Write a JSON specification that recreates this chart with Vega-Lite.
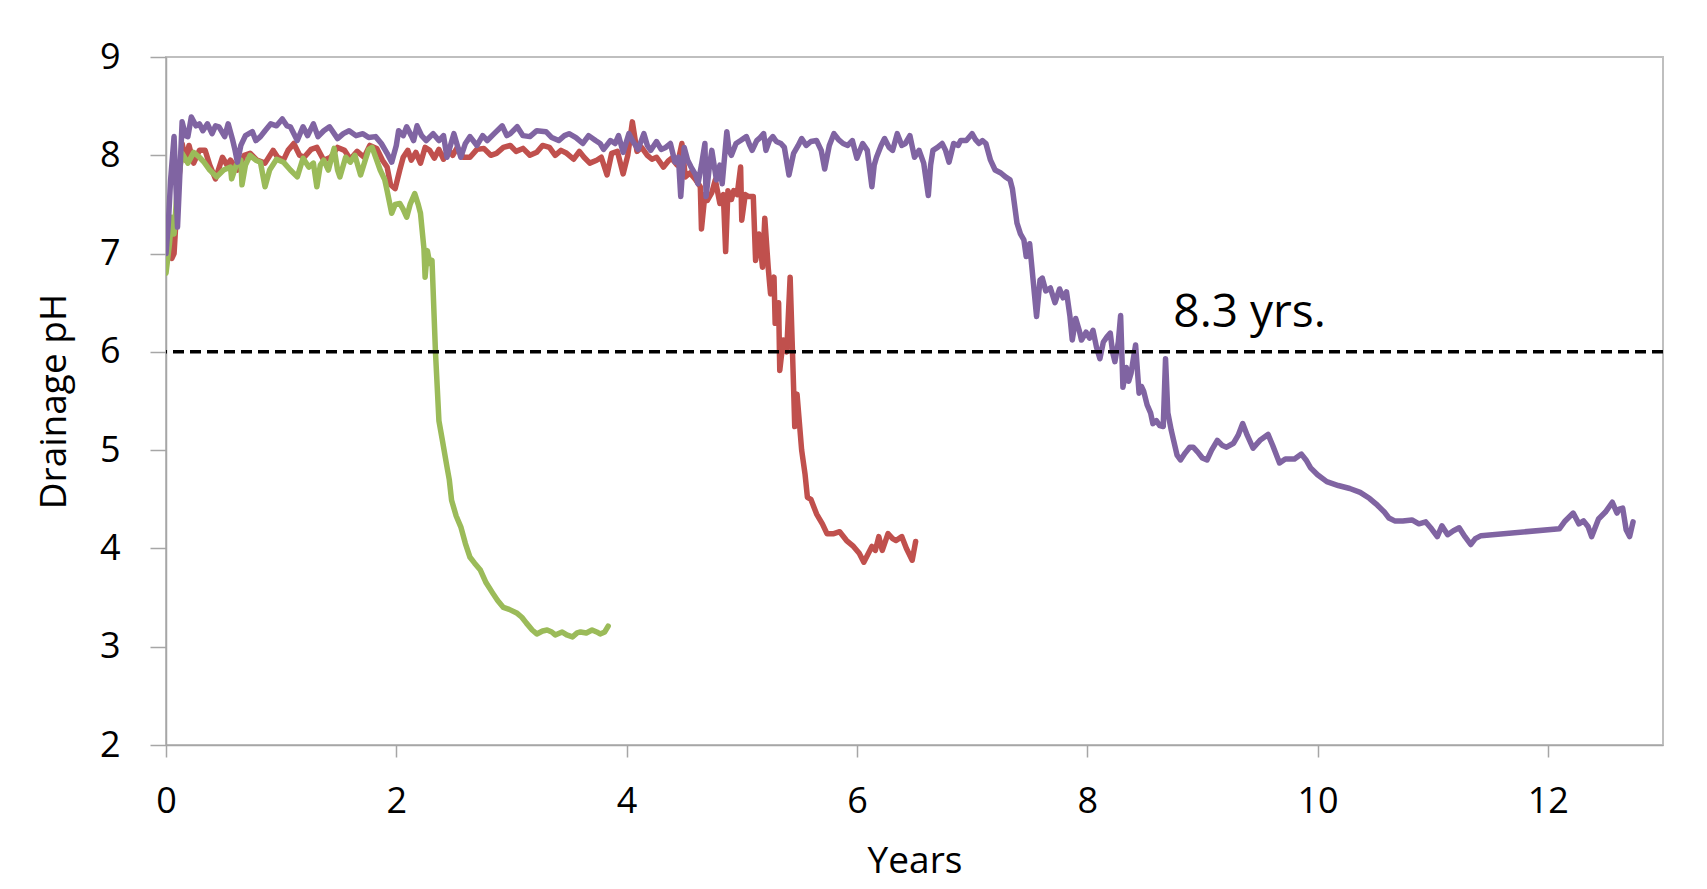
{
  "$schema": "https://vega.github.io/schema/vega-lite/v6.json",
  "autosize": "none",
  "width": 1497,
  "height": 688,
  "padding": {"left": 166, "top": 57, "right": 44, "bottom": 144},
  "background": "white",
  "config": {
    "view": {"stroke": "#bfbfbf", "strokeWidth": 2},
    "axis": {
      "grid": false,
      "labelFont": "Open Sans",
      "labelFontSize": 36,
      "labelColor": "#000000",
      "labelFlush": false,
      "titleFont": "Open Sans",
      "titleFontSize": 37,
      "titleFontWeight": "normal",
      "titleColor": "#000000",
      "domainColor": "#a6a6a6",
      "domainWidth": 1.5,
      "tickColor": "#a6a6a6",
      "tickWidth": 1.5
    }
  },
  "datasets": {
    "series": [
      {"s":"Column 1","x":0,"y":7.0},{"s":"Column 1","x":0.02,"y":7.3},{"s":"Column 1","x":0.05,"y":6.95},{"s":"Column 1","x":0.07,"y":7.0},{"s":"Column 1","x":0.1,"y":7.6},{"s":"Column 1","x":0.14,"y":8.12},{"s":"Column 1","x":0.17,"y":7.95},{"s":"Column 1","x":0.2,"y":8.1},{"s":"Column 1","x":0.24,"y":7.92},{"s":"Column 1","x":0.29,"y":8.05},{"s":"Column 1","x":0.34,"y":8.05},{"s":"Column 1","x":0.38,"y":7.9},{"s":"Column 1","x":0.43,"y":7.76},{"s":"Column 1","x":0.49,"y":7.98},{"s":"Column 1","x":0.53,"y":7.9},{"s":"Column 1","x":0.56,"y":7.95},{"s":"Column 1","x":0.62,"y":7.85},{"s":"Column 1","x":0.68,"y":8.0},{"s":"Column 1","x":0.73,"y":8.02},{"s":"Column 1","x":0.79,"y":7.95},{"s":"Column 1","x":0.86,"y":7.92},{"s":"Column 1","x":0.93,"y":8.05},{"s":"Column 1","x":0.97,"y":7.98},{"s":"Column 1","x":1.02,"y":7.95},{"s":"Column 1","x":1.06,"y":8.05},{"s":"Column 1","x":1.11,"y":8.12},{"s":"Column 1","x":1.16,"y":8.0},{"s":"Column 1","x":1.2,"y":7.98},{"s":"Column 1","x":1.26,"y":8.06},{"s":"Column 1","x":1.31,"y":8.08},{"s":"Column 1","x":1.37,"y":7.95},{"s":"Column 1","x":1.43,"y":7.98},{"s":"Column 1","x":1.49,"y":8.08},{"s":"Column 1","x":1.55,"y":8.05},{"s":"Column 1","x":1.6,"y":7.96},{"s":"Column 1","x":1.66,"y":8.04},{"s":"Column 1","x":1.72,"y":7.98},{"s":"Column 1","x":1.77,"y":8.1},{"s":"Column 1","x":1.83,"y":8.07},{"s":"Column 1","x":1.88,"y":7.95},{"s":"Column 1","x":1.92,"y":7.88},{"s":"Column 1","x":1.95,"y":7.7},{"s":"Column 1","x":1.99,"y":7.66},{"s":"Column 1","x":2.03,"y":7.85},{"s":"Column 1","x":2.06,"y":7.98},{"s":"Column 1","x":2.1,"y":8.05},{"s":"Column 1","x":2.13,"y":7.95},{"s":"Column 1","x":2.17,"y":8.03},{"s":"Column 1","x":2.21,"y":7.92},{"s":"Column 1","x":2.25,"y":8.08},{"s":"Column 1","x":2.29,"y":8.05},{"s":"Column 1","x":2.33,"y":7.97},{"s":"Column 1","x":2.37,"y":8.06},{"s":"Column 1","x":2.41,"y":7.96},{"s":"Column 1","x":2.45,"y":8.06},{"s":"Column 1","x":2.49,"y":8.0},{"s":"Column 1","x":2.53,"y":8.08},{"s":"Column 1","x":2.58,"y":7.98},{"s":"Column 1","x":2.64,"y":7.98},{"s":"Column 1","x":2.7,"y":8.06},{"s":"Column 1","x":2.76,"y":8.07},{"s":"Column 1","x":2.82,"y":8.0},{"s":"Column 1","x":2.87,"y":8.02},{"s":"Column 1","x":2.93,"y":8.08},{"s":"Column 1","x":2.99,"y":8.1},{"s":"Column 1","x":3.04,"y":8.04},{"s":"Column 1","x":3.1,"y":8.07},{"s":"Column 1","x":3.16,"y":8.0},{"s":"Column 1","x":3.22,"y":8.03},{"s":"Column 1","x":3.27,"y":8.1},{"s":"Column 1","x":3.33,"y":8.08},{"s":"Column 1","x":3.38,"y":8.0},{"s":"Column 1","x":3.43,"y":8.05},{"s":"Column 1","x":3.48,"y":8.02},{"s":"Column 1","x":3.54,"y":7.96},{"s":"Column 1","x":3.59,"y":8.04},{"s":"Column 1","x":3.63,"y":7.98},{"s":"Column 1","x":3.68,"y":7.92},{"s":"Column 1","x":3.74,"y":7.95},{"s":"Column 1","x":3.78,"y":7.98},{"s":"Column 1","x":3.83,"y":7.8},{"s":"Column 1","x":3.87,"y":8.02},{"s":"Column 1","x":3.92,"y":8.04},{"s":"Column 1","x":3.97,"y":7.81},{"s":"Column 1","x":4.01,"y":8.0},{"s":"Column 1","x":4.05,"y":8.34},{"s":"Column 1","x":4.09,"y":8.04},{"s":"Column 1","x":4.13,"y":8.08},{"s":"Column 1","x":4.18,"y":8.0},{"s":"Column 1","x":4.22,"y":7.96},{"s":"Column 1","x":4.26,"y":7.98},{"s":"Column 1","x":4.32,"y":7.88},{"s":"Column 1","x":4.36,"y":7.94},{"s":"Column 1","x":4.39,"y":7.97},{"s":"Column 1","x":4.44,"y":7.9},{"s":"Column 1","x":4.48,"y":8.12},{"s":"Column 1","x":4.51,"y":7.78},{"s":"Column 1","x":4.55,"y":7.82},{"s":"Column 1","x":4.6,"y":7.75},{"s":"Column 1","x":4.64,"y":7.68},{"s":"Column 1","x":4.65,"y":7.25},{"s":"Column 1","x":4.68,"y":7.6},{"s":"Column 1","x":4.7,"y":7.54},{"s":"Column 1","x":4.74,"y":7.62},{"s":"Column 1","x":4.77,"y":7.75},{"s":"Column 1","x":4.81,"y":7.51},{"s":"Column 1","x":4.84,"y":7.6},{"s":"Column 1","x":4.86,"y":7.02},{"s":"Column 1","x":4.88,"y":7.64},{"s":"Column 1","x":4.91,"y":7.55},{"s":"Column 1","x":4.93,"y":7.64},{"s":"Column 1","x":4.96,"y":7.6},{"s":"Column 1","x":4.99,"y":7.88},{"s":"Column 1","x":5.0,"y":7.34},{"s":"Column 1","x":5.03,"y":7.6},{"s":"Column 1","x":5.06,"y":7.58},{"s":"Column 1","x":5.1,"y":7.58},{"s":"Column 1","x":5.12,"y":6.93},{"s":"Column 1","x":5.15,"y":7.2},{"s":"Column 1","x":5.18,"y":6.86},{"s":"Column 1","x":5.2,"y":7.36},{"s":"Column 1","x":5.23,"y":6.85},{"s":"Column 1","x":5.25,"y":6.59},{"s":"Column 1","x":5.28,"y":6.76},{"s":"Column 1","x":5.29,"y":6.29},{"s":"Column 1","x":5.32,"y":6.5},{"s":"Column 1","x":5.33,"y":5.81},{"s":"Column 1","x":5.36,"y":6.12},{"s":"Column 1","x":5.39,"y":6.0},{"s":"Column 1","x":5.42,"y":6.76},{"s":"Column 1","x":5.45,"y":5.64},{"s":"Column 1","x":5.46,"y":5.24},{"s":"Column 1","x":5.48,"y":5.57},{"s":"Column 1","x":5.52,"y":5.0},{"s":"Column 1","x":5.55,"y":4.75},{"s":"Column 1","x":5.57,"y":4.52},{"s":"Column 1","x":5.6,"y":4.5},{"s":"Column 1","x":5.65,"y":4.35},{"s":"Column 1","x":5.7,"y":4.25},{"s":"Column 1","x":5.74,"y":4.15},{"s":"Column 1","x":5.8,"y":4.15},{"s":"Column 1","x":5.85,"y":4.17},{"s":"Column 1","x":5.91,"y":4.08},{"s":"Column 1","x":5.97,"y":4.02},{"s":"Column 1","x":6.02,"y":3.95},{"s":"Column 1","x":6.06,"y":3.86},{"s":"Column 1","x":6.1,"y":3.95},{"s":"Column 1","x":6.13,"y":4.02},{"s":"Column 1","x":6.16,"y":3.98},{"s":"Column 1","x":6.19,"y":4.12},{"s":"Column 1","x":6.22,"y":3.98},{"s":"Column 1","x":6.27,"y":4.15},{"s":"Column 1","x":6.31,"y":4.1},{"s":"Column 1","x":6.34,"y":4.08},{"s":"Column 1","x":6.39,"y":4.12},{"s":"Column 1","x":6.43,"y":4.0},{"s":"Column 1","x":6.48,"y":3.88},{"s":"Column 1","x":6.51,"y":4.07},

      {"s":"Column 2","x":0,"y":6.8},{"s":"Column 2","x":0.03,"y":7.1},{"s":"Column 2","x":0.05,"y":7.37},{"s":"Column 2","x":0.07,"y":7.2},{"s":"Column 2","x":0.1,"y":7.7},{"s":"Column 2","x":0.14,"y":8.02},{"s":"Column 2","x":0.19,"y":7.92},{"s":"Column 2","x":0.24,"y":8.03},{"s":"Column 2","x":0.29,"y":7.98},{"s":"Column 2","x":0.33,"y":7.93},{"s":"Column 2","x":0.38,"y":7.85},{"s":"Column 2","x":0.44,"y":7.78},{"s":"Column 2","x":0.5,"y":7.85},{"s":"Column 2","x":0.56,"y":7.88},{"s":"Column 2","x":0.57,"y":7.76},{"s":"Column 2","x":0.61,"y":7.9},{"s":"Column 2","x":0.65,"y":7.95},{"s":"Column 2","x":0.66,"y":7.7},{"s":"Column 2","x":0.69,"y":7.9},{"s":"Column 2","x":0.73,"y":8.0},{"s":"Column 2","x":0.78,"y":7.95},{"s":"Column 2","x":0.82,"y":7.93},{"s":"Column 2","x":0.86,"y":7.68},{"s":"Column 2","x":0.9,"y":7.85},{"s":"Column 2","x":0.96,"y":7.96},{"s":"Column 2","x":1.02,"y":7.93},{"s":"Column 2","x":1.08,"y":7.85},{"s":"Column 2","x":1.14,"y":7.78},{"s":"Column 2","x":1.19,"y":7.97},{"s":"Column 2","x":1.24,"y":7.88},{"s":"Column 2","x":1.28,"y":7.92},{"s":"Column 2","x":1.31,"y":7.68},{"s":"Column 2","x":1.34,"y":7.9},{"s":"Column 2","x":1.37,"y":7.95},{"s":"Column 2","x":1.41,"y":7.85},{"s":"Column 2","x":1.46,"y":8.07},{"s":"Column 2","x":1.49,"y":7.85},{"s":"Column 2","x":1.51,"y":7.78},{"s":"Column 2","x":1.56,"y":7.98},{"s":"Column 2","x":1.6,"y":7.93},{"s":"Column 2","x":1.64,"y":8.0},{"s":"Column 2","x":1.69,"y":7.8},{"s":"Column 2","x":1.73,"y":7.95},{"s":"Column 2","x":1.76,"y":8.06},{"s":"Column 2","x":1.79,"y":8.08},{"s":"Column 2","x":1.83,"y":7.95},{"s":"Column 2","x":1.86,"y":7.85},{"s":"Column 2","x":1.9,"y":7.75},{"s":"Column 2","x":1.92,"y":7.64},{"s":"Column 2","x":1.96,"y":7.41},{"s":"Column 2","x":1.99,"y":7.5},{"s":"Column 2","x":2.03,"y":7.51},{"s":"Column 2","x":2.06,"y":7.45},{"s":"Column 2","x":2.09,"y":7.37},{"s":"Column 2","x":2.12,"y":7.5},{"s":"Column 2","x":2.16,"y":7.61},{"s":"Column 2","x":2.19,"y":7.5},{"s":"Column 2","x":2.21,"y":7.41},{"s":"Column 2","x":2.24,"y":7.05},{"s":"Column 2","x":2.25,"y":6.76},{"s":"Column 2","x":2.27,"y":7.03},{"s":"Column 2","x":2.29,"y":6.9},{"s":"Column 2","x":2.31,"y":6.93},{"s":"Column 2","x":2.34,"y":6.0},{"s":"Column 2","x":2.37,"y":5.3},{"s":"Column 2","x":2.4,"y":5.1},{"s":"Column 2","x":2.44,"y":4.83},{"s":"Column 2","x":2.46,"y":4.7},{"s":"Column 2","x":2.48,"y":4.49},{"s":"Column 2","x":2.52,"y":4.33},{"s":"Column 2","x":2.56,"y":4.22},{"s":"Column 2","x":2.6,"y":4.05},{"s":"Column 2","x":2.64,"y":3.91},{"s":"Column 2","x":2.68,"y":3.85},{"s":"Column 2","x":2.73,"y":3.78},{"s":"Column 2","x":2.78,"y":3.65},{"s":"Column 2","x":2.84,"y":3.54},{"s":"Column 2","x":2.88,"y":3.47},{"s":"Column 2","x":2.93,"y":3.4},{"s":"Column 2","x":2.98,"y":3.38},{"s":"Column 2","x":3.05,"y":3.34},{"s":"Column 2","x":3.09,"y":3.3},{"s":"Column 2","x":3.13,"y":3.24},{"s":"Column 2","x":3.18,"y":3.17},{"s":"Column 2","x":3.22,"y":3.13},{"s":"Column 2","x":3.27,"y":3.16},{"s":"Column 2","x":3.31,"y":3.17},{"s":"Column 2","x":3.35,"y":3.15},{"s":"Column 2","x":3.38,"y":3.12},{"s":"Column 2","x":3.44,"y":3.15},{"s":"Column 2","x":3.48,"y":3.12},{"s":"Column 2","x":3.53,"y":3.1},{"s":"Column 2","x":3.57,"y":3.14},{"s":"Column 2","x":3.6,"y":3.15},{"s":"Column 2","x":3.65,"y":3.14},{"s":"Column 2","x":3.7,"y":3.17},{"s":"Column 2","x":3.74,"y":3.15},{"s":"Column 2","x":3.77,"y":3.13},{"s":"Column 2","x":3.81,"y":3.15},{"s":"Column 2","x":3.84,"y":3.21},

      {"s":"Column 3","x":0,"y":7.0},{"s":"Column 3","x":0.02,"y":7.3},{"s":"Column 3","x":0.04,"y":7.75},{"s":"Column 3","x":0.07,"y":8.19},{"s":"Column 3","x":0.1,"y":7.27},{"s":"Column 3","x":0.12,"y":7.8},{"s":"Column 3","x":0.14,"y":8.34},{"s":"Column 3","x":0.17,"y":8.2},{"s":"Column 3","x":0.19,"y":8.19},{"s":"Column 3","x":0.22,"y":8.39},{"s":"Column 3","x":0.26,"y":8.3},{"s":"Column 3","x":0.29,"y":8.32},{"s":"Column 3","x":0.32,"y":8.25},{"s":"Column 3","x":0.36,"y":8.32},{"s":"Column 3","x":0.4,"y":8.22},{"s":"Column 3","x":0.43,"y":8.3},{"s":"Column 3","x":0.46,"y":8.29},{"s":"Column 3","x":0.51,"y":8.19},{"s":"Column 3","x":0.54,"y":8.32},{"s":"Column 3","x":0.58,"y":8.15},{"s":"Column 3","x":0.6,"y":8.05},{"s":"Column 3","x":0.62,"y":7.93},{"s":"Column 3","x":0.65,"y":8.1},{"s":"Column 3","x":0.69,"y":8.2},{"s":"Column 3","x":0.75,"y":8.24},{"s":"Column 3","x":0.78,"y":8.15},{"s":"Column 3","x":0.82,"y":8.19},{"s":"Column 3","x":0.86,"y":8.25},{"s":"Column 3","x":0.91,"y":8.32},{"s":"Column 3","x":0.96,"y":8.3},{"s":"Column 3","x":1.01,"y":8.37},{"s":"Column 3","x":1.05,"y":8.3},{"s":"Column 3","x":1.08,"y":8.29},{"s":"Column 3","x":1.14,"y":8.15},{"s":"Column 3","x":1.19,"y":8.29},{"s":"Column 3","x":1.23,"y":8.2},{"s":"Column 3","x":1.28,"y":8.32},{"s":"Column 3","x":1.32,"y":8.19},{"s":"Column 3","x":1.37,"y":8.25},{"s":"Column 3","x":1.42,"y":8.29},{"s":"Column 3","x":1.49,"y":8.17},{"s":"Column 3","x":1.54,"y":8.22},{"s":"Column 3","x":1.59,"y":8.25},{"s":"Column 3","x":1.65,"y":8.2},{"s":"Column 3","x":1.71,"y":8.22},{"s":"Column 3","x":1.76,"y":8.18},{"s":"Column 3","x":1.82,"y":8.19},{"s":"Column 3","x":1.87,"y":8.12},{"s":"Column 3","x":1.92,"y":8.02},{"s":"Column 3","x":1.96,"y":7.93},{"s":"Column 3","x":2.0,"y":8.1},{"s":"Column 3","x":2.02,"y":8.25},{"s":"Column 3","x":2.06,"y":8.2},{"s":"Column 3","x":2.09,"y":8.29},{"s":"Column 3","x":2.13,"y":8.2},{"s":"Column 3","x":2.15,"y":8.15},{"s":"Column 3","x":2.18,"y":8.3},{"s":"Column 3","x":2.22,"y":8.2},{"s":"Column 3","x":2.26,"y":8.15},{"s":"Column 3","x":2.32,"y":8.22},{"s":"Column 3","x":2.37,"y":8.15},{"s":"Column 3","x":2.41,"y":8.2},{"s":"Column 3","x":2.44,"y":7.98},{"s":"Column 3","x":2.5,"y":8.22},{"s":"Column 3","x":2.53,"y":8.1},{"s":"Column 3","x":2.56,"y":7.98},{"s":"Column 3","x":2.6,"y":8.12},{"s":"Column 3","x":2.64,"y":8.19},{"s":"Column 3","x":2.7,"y":8.1},{"s":"Column 3","x":2.75,"y":8.2},{"s":"Column 3","x":2.79,"y":8.15},{"s":"Column 3","x":2.85,"y":8.22},{"s":"Column 3","x":2.92,"y":8.3},{"s":"Column 3","x":2.96,"y":8.2},{"s":"Column 3","x":2.99,"y":8.22},{"s":"Column 3","x":3.05,"y":8.29},{"s":"Column 3","x":3.1,"y":8.2},{"s":"Column 3","x":3.16,"y":8.19},{"s":"Column 3","x":3.22,"y":8.25},{"s":"Column 3","x":3.3,"y":8.24},{"s":"Column 3","x":3.35,"y":8.18},{"s":"Column 3","x":3.41,"y":8.15},{"s":"Column 3","x":3.46,"y":8.2},{"s":"Column 3","x":3.5,"y":8.22},{"s":"Column 3","x":3.56,"y":8.18},{"s":"Column 3","x":3.62,"y":8.12},{"s":"Column 3","x":3.67,"y":8.2},{"s":"Column 3","x":3.73,"y":8.15},{"s":"Column 3","x":3.77,"y":8.12},{"s":"Column 3","x":3.8,"y":8.06},{"s":"Column 3","x":3.86,"y":8.15},{"s":"Column 3","x":3.9,"y":8.12},{"s":"Column 3","x":3.93,"y":8.2},{"s":"Column 3","x":3.97,"y":8.03},{"s":"Column 3","x":4.02,"y":8.22},{"s":"Column 3","x":4.05,"y":8.15},{"s":"Column 3","x":4.1,"y":8.06},{"s":"Column 3","x":4.15,"y":8.22},{"s":"Column 3","x":4.18,"y":8.1},{"s":"Column 3","x":4.21,"y":8.05},{"s":"Column 3","x":4.26,"y":8.14},{"s":"Column 3","x":4.3,"y":8.06},{"s":"Column 3","x":4.34,"y":8.08},{"s":"Column 3","x":4.38,"y":8.12},{"s":"Column 3","x":4.42,"y":7.93},{"s":"Column 3","x":4.45,"y":7.98},{"s":"Column 3","x":4.47,"y":7.58},{"s":"Column 3","x":4.5,"y":8.08},{"s":"Column 3","x":4.53,"y":7.95},{"s":"Column 3","x":4.56,"y":7.88},{"s":"Column 3","x":4.6,"y":7.8},{"s":"Column 3","x":4.62,"y":7.71},{"s":"Column 3","x":4.65,"y":7.9},{"s":"Column 3","x":4.68,"y":8.12},{"s":"Column 3","x":4.69,"y":7.58},{"s":"Column 3","x":4.72,"y":7.9},{"s":"Column 3","x":4.74,"y":8.05},{"s":"Column 3","x":4.78,"y":7.75},{"s":"Column 3","x":4.81,"y":7.9},{"s":"Column 3","x":4.83,"y":7.71},{"s":"Column 3","x":4.87,"y":8.24},{"s":"Column 3","x":4.89,"y":8.05},{"s":"Column 3","x":4.91,"y":8.0},{"s":"Column 3","x":4.95,"y":8.12},{"s":"Column 3","x":4.99,"y":8.15},{"s":"Column 3","x":5.04,"y":8.19},{"s":"Column 3","x":5.07,"y":8.1},{"s":"Column 3","x":5.09,"y":8.05},{"s":"Column 3","x":5.13,"y":8.15},{"s":"Column 3","x":5.16,"y":8.18},{"s":"Column 3","x":5.19,"y":8.22},{"s":"Column 3","x":5.21,"y":8.05},{"s":"Column 3","x":5.24,"y":8.15},{"s":"Column 3","x":5.27,"y":8.19},{"s":"Column 3","x":5.3,"y":8.14},{"s":"Column 3","x":5.34,"y":8.12},{"s":"Column 3","x":5.37,"y":8.08},{"s":"Column 3","x":5.41,"y":7.8},{"s":"Column 3","x":5.45,"y":8.02},{"s":"Column 3","x":5.49,"y":8.1},{"s":"Column 3","x":5.52,"y":8.17},{"s":"Column 3","x":5.56,"y":8.1},{"s":"Column 3","x":5.6,"y":8.14},{"s":"Column 3","x":5.65,"y":8.15},{"s":"Column 3","x":5.69,"y":8.05},{"s":"Column 3","x":5.72,"y":7.86},{"s":"Column 3","x":5.76,"y":8.1},{"s":"Column 3","x":5.8,"y":8.22},{"s":"Column 3","x":5.84,"y":8.16},{"s":"Column 3","x":5.88,"y":8.12},{"s":"Column 3","x":5.92,"y":8.1},{"s":"Column 3","x":5.96,"y":8.15},{"s":"Column 3","x":6.0,"y":7.97},{"s":"Column 3","x":6.05,"y":8.12},{"s":"Column 3","x":6.09,"y":8.05},{"s":"Column 3","x":6.13,"y":7.68},{"s":"Column 3","x":6.15,"y":7.9},{"s":"Column 3","x":6.17,"y":7.98},{"s":"Column 3","x":6.21,"y":8.1},{"s":"Column 3","x":6.24,"y":8.17},{"s":"Column 3","x":6.28,"y":8.08},{"s":"Column 3","x":6.31,"y":8.05},{"s":"Column 3","x":6.35,"y":8.22},{"s":"Column 3","x":6.39,"y":8.1},{"s":"Column 3","x":6.42,"y":8.12},{"s":"Column 3","x":6.46,"y":8.2},{"s":"Column 3","x":6.5,"y":7.98},{"s":"Column 3","x":6.54,"y":8.05},{"s":"Column 3","x":6.58,"y":7.92},{"s":"Column 3","x":6.62,"y":7.59},{"s":"Column 3","x":6.64,"y":7.9},{"s":"Column 3","x":6.66,"y":8.05},{"s":"Column 3","x":6.7,"y":8.08},{"s":"Column 3","x":6.74,"y":8.12},{"s":"Column 3","x":6.77,"y":8.05},{"s":"Column 3","x":6.8,"y":7.93},{"s":"Column 3","x":6.84,"y":8.12},{"s":"Column 3","x":6.88,"y":8.1},{"s":"Column 3","x":6.9,"y":8.15},{"s":"Column 3","x":6.95,"y":8.15},{"s":"Column 3","x":7.0,"y":8.22},{"s":"Column 3","x":7.03,"y":8.16},{"s":"Column 3","x":7.06,"y":8.12},{"s":"Column 3","x":7.09,"y":8.15},{"s":"Column 3","x":7.12,"y":8.12},{"s":"Column 3","x":7.16,"y":7.95},{"s":"Column 3","x":7.2,"y":7.85},{"s":"Column 3","x":7.25,"y":7.82},{"s":"Column 3","x":7.29,"y":7.78},{"s":"Column 3","x":7.33,"y":7.75},{"s":"Column 3","x":7.35,"y":7.66},{"s":"Column 3","x":7.39,"y":7.31},{"s":"Column 3","x":7.42,"y":7.2},{"s":"Column 3","x":7.45,"y":7.14},{"s":"Column 3","x":7.47,"y":6.97},{"s":"Column 3","x":7.5,"y":7.1},{"s":"Column 3","x":7.53,"y":6.73},{"s":"Column 3","x":7.56,"y":6.36},{"s":"Column 3","x":7.59,"y":6.73},{"s":"Column 3","x":7.61,"y":6.75},{"s":"Column 3","x":7.64,"y":6.62},{"s":"Column 3","x":7.68,"y":6.65},{"s":"Column 3","x":7.72,"y":6.5},{"s":"Column 3","x":7.76,"y":6.64},{"s":"Column 3","x":7.79,"y":6.55},{"s":"Column 3","x":7.82,"y":6.61},{"s":"Column 3","x":7.85,"y":6.36},{"s":"Column 3","x":7.87,"y":6.12},{"s":"Column 3","x":7.9,"y":6.34},{"s":"Column 3","x":7.93,"y":6.22},{"s":"Column 3","x":7.95,"y":6.12},{"s":"Column 3","x":7.99,"y":6.2},{"s":"Column 3","x":8.02,"y":6.14},{"s":"Column 3","x":8.05,"y":6.22},{"s":"Column 3","x":8.08,"y":6.05},{"s":"Column 3","x":8.11,"y":5.93},{"s":"Column 3","x":8.14,"y":6.1},{"s":"Column 3","x":8.17,"y":6.15},{"s":"Column 3","x":8.2,"y":6.19},{"s":"Column 3","x":8.22,"y":6.0},{"s":"Column 3","x":8.24,"y":5.9},{"s":"Column 3","x":8.27,"y":6.1},{"s":"Column 3","x":8.29,"y":6.37},{"s":"Column 3","x":8.31,"y":5.64},{"s":"Column 3","x":8.34,"y":5.84},{"s":"Column 3","x":8.36,"y":5.7},{"s":"Column 3","x":8.38,"y":5.78},{"s":"Column 3","x":8.42,"y":6.07},{"s":"Column 3","x":8.45,"y":5.58},{"s":"Column 3","x":8.47,"y":5.65},{"s":"Column 3","x":8.49,"y":5.6},{"s":"Column 3","x":8.52,"y":5.46},{"s":"Column 3","x":8.55,"y":5.38},{"s":"Column 3","x":8.57,"y":5.27},{"s":"Column 3","x":8.6,"y":5.3},{"s":"Column 3","x":8.63,"y":5.25},{"s":"Column 3","x":8.66,"y":5.24},{"s":"Column 3","x":8.68,"y":5.93},{"s":"Column 3","x":8.7,"y":5.38},{"s":"Column 3","x":8.73,"y":5.2},{"s":"Column 3","x":8.75,"y":5.1},{"s":"Column 3","x":8.78,"y":4.95},{"s":"Column 3","x":8.81,"y":4.9},{"s":"Column 3","x":8.85,"y":4.97},{"s":"Column 3","x":8.89,"y":5.03},{"s":"Column 3","x":8.92,"y":5.03},{"s":"Column 3","x":8.96,"y":4.98},{"s":"Column 3","x":9.0,"y":4.92},{"s":"Column 3","x":9.04,"y":4.9},{"s":"Column 3","x":9.08,"y":5.0},{"s":"Column 3","x":9.13,"y":5.1},{"s":"Column 3","x":9.17,"y":5.05},{"s":"Column 3","x":9.21,"y":5.03},{"s":"Column 3","x":9.27,"y":5.07},{"s":"Column 3","x":9.31,"y":5.15},{"s":"Column 3","x":9.35,"y":5.27},{"s":"Column 3","x":9.39,"y":5.15},{"s":"Column 3","x":9.44,"y":5.02},{"s":"Column 3","x":9.5,"y":5.1},{"s":"Column 3","x":9.57,"y":5.16},{"s":"Column 3","x":9.61,"y":5.05},{"s":"Column 3","x":9.67,"y":4.87},{"s":"Column 3","x":9.72,"y":4.91},{"s":"Column 3","x":9.8,"y":4.91},{"s":"Column 3","x":9.86,"y":4.96},{"s":"Column 3","x":9.9,"y":4.9},{"s":"Column 3","x":9.94,"y":4.82},{"s":"Column 3","x":10.0,"y":4.75},{"s":"Column 3","x":10.08,"y":4.68},{"s":"Column 3","x":10.18,"y":4.64},{"s":"Column 3","x":10.28,"y":4.61},{"s":"Column 3","x":10.37,"y":4.57},{"s":"Column 3","x":10.45,"y":4.51},{"s":"Column 3","x":10.52,"y":4.44},{"s":"Column 3","x":10.58,"y":4.37},{"s":"Column 3","x":10.62,"y":4.31},{"s":"Column 3","x":10.67,"y":4.28},{"s":"Column 3","x":10.74,"y":4.28},{"s":"Column 3","x":10.82,"y":4.29},{"s":"Column 3","x":10.88,"y":4.25},{"s":"Column 3","x":10.94,"y":4.27},{"s":"Column 3","x":10.99,"y":4.2},{"s":"Column 3","x":11.04,"y":4.12},{"s":"Column 3","x":11.08,"y":4.23},{"s":"Column 3","x":11.13,"y":4.14},{"s":"Column 3","x":11.18,"y":4.18},{"s":"Column 3","x":11.23,"y":4.21},{"s":"Column 3","x":11.28,"y":4.12},{"s":"Column 3","x":11.33,"y":4.04},{"s":"Column 3","x":11.37,"y":4.1},{"s":"Column 3","x":11.42,"y":4.13},{"s":"Column 3","x":12.1,"y":4.2},{"s":"Column 3","x":12.15,"y":4.28},{"s":"Column 3","x":12.22,"y":4.36},{"s":"Column 3","x":12.27,"y":4.25},{"s":"Column 3","x":12.31,"y":4.28},{"s":"Column 3","x":12.35,"y":4.22},{"s":"Column 3","x":12.38,"y":4.12},{"s":"Column 3","x":12.44,"y":4.3},{"s":"Column 3","x":12.5,"y":4.37},{"s":"Column 3","x":12.56,"y":4.47},{"s":"Column 3","x":12.6,"y":4.36},{"s":"Column 3","x":12.62,"y":4.4},{"s":"Column 3","x":12.65,"y":4.41},{"s":"Column 3","x":12.68,"y":4.19},{"s":"Column 3","x":12.71,"y":4.12},{"s":"Column 3","x":12.74,"y":4.27}
    ],
    "threshold": [{"ph": 6}],
    "note": [{"x": 9.41, "y": 6.25, "label": "8.3 yrs."}]
  },
  "layer": [
    {
      "data": {"name": "series"},
      "mark": {"type": "line", "strokeWidth": 5.5, "strokeJoin": "round", "strokeCap": "round", "clip": true},
      "encoding": {
        "x": {
          "field": "x", "type": "quantitative",
          "scale": {"domain": [0, 13], "nice": false, "zero": false},
          "axis": {"values": [0, 2, 4, 6, 8, 10, 12], "format": "d", "tickSize": 12, "labelPadding": 27, "title": "Years", "titlePadding": 24}
        },
        "y": {
          "field": "y", "type": "quantitative",
          "scale": {"domain": [2, 9], "nice": false, "zero": false},
          "axis": {"values": [2, 3, 4, 5, 6, 7, 8, 9], "format": "d", "tickSize": 16, "labelPadding": 30, "title": "Drainage pH", "titlePadding": 26}
        },
        "color": {
          "field": "s", "type": "nominal",
          "scale": {"domain": ["Column 1", "Column 2", "Column 3"], "range": ["#C0504D", "#9BBB59", "#8064A2"]},
          "legend": null
        }
      }
    },
    {
      "data": {"name": "threshold"},
      "mark": {"type": "rule", "color": "#000000", "strokeWidth": 3.5, "strokeDash": [11, 6]},
      "encoding": {"y": {"field": "ph", "type": "quantitative"}}
    },
    {
      "data": {"name": "note"},
      "mark": {"type": "text", "font": "Open Sans", "fontSize": 46, "color": "#000000", "align": "center", "baseline": "alphabetic"},
      "encoding": {
        "x": {"field": "x", "type": "quantitative"},
        "y": {"field": "y", "type": "quantitative"},
        "text": {"field": "label"}
      }
    }
  ]
}
